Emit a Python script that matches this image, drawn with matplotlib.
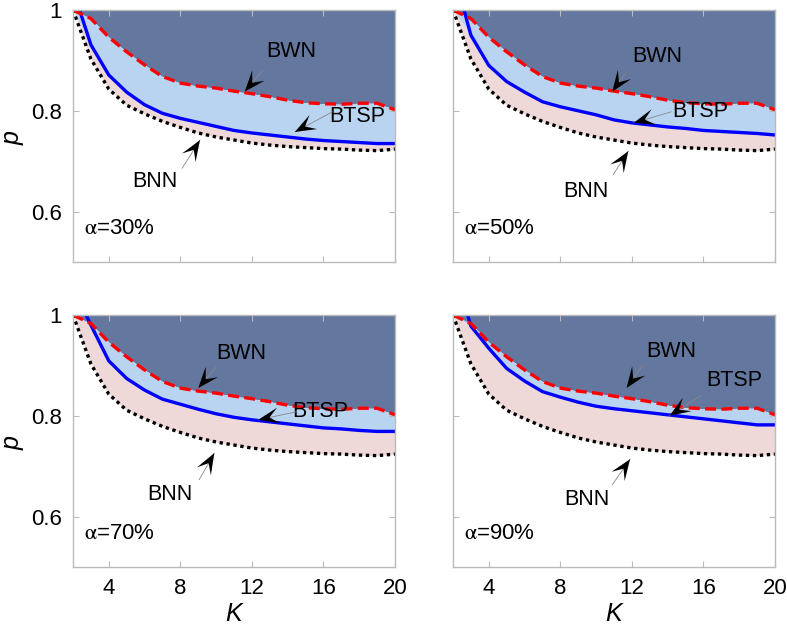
import numpy as np
import matplotlib
matplotlib.use("Agg")
import matplotlib.pyplot as plt
from matplotlib.patches import Polygon
from matplotlib.transforms import ScaledTranslation

plt.rcParams['font.family'] = ['Liberation Sans', 'DejaVu Sans']
plt.rcParams['mathtext.fontset'] = 'stix'

# data
K = list(range(2, 21))
bwn = [1.0, 0.983, 0.946, 0.917, 0.891, 0.868, 0.855, 0.849, 0.845, 0.839,
       0.834, 0.828, 0.821, 0.816, 0.814, 0.813, 0.815, 0.815, 0.802]
bnn = [1.0, 0.903, 0.843, 0.811, 0.794, 0.779, 0.767, 0.756, 0.748, 0.742,
       0.736, 0.732, 0.729, 0.727, 0.725, 0.724, 0.722, 0.721, 0.724]
btsp30 = [1.04, 0.931, 0.871, 0.837, 0.812, 0.795, 0.785, 0.777, 0.769, 0.761,
          0.756, 0.752, 0.748, 0.744, 0.741, 0.739, 0.737, 0.735, 0.735]
btsp50 = [1.08, 0.950, 0.890, 0.858, 0.837, 0.818, 0.808, 0.800, 0.792, 0.782,
          0.776, 0.772, 0.768, 0.765, 0.761, 0.759, 0.757, 0.755, 0.752]
btsp70 = [1.055, 0.980, 0.909, 0.874, 0.851, 0.833, 0.823, 0.813, 0.804, 0.797,
          0.792, 0.788, 0.784, 0.780, 0.776, 0.774, 0.771, 0.769, 0.769]
btsp90 = [1.10, 0.978, 0.934, 0.894, 0.869, 0.848, 0.837, 0.827, 0.819, 0.814,
          0.810, 0.806, 0.802, 0.798, 0.794, 0.790, 0.786, 0.782, 0.782]
alphas = ['30%', '50%', '70%', '90%']
btsp_all = [btsp30, btsp50, btsp70, btsp90]

# label placement: (text xy, line start, arrow tip) for BWN, BTSP, BNN
labels = [
    {'BWN': ((14.2, 0.917), (12.6, 0.880), (11.6, 0.838)),
     'BTSP': ((17.9, 0.788), (16.5, 0.798), (14.4, 0.758)),
     'BNN': ((6.6, 0.659), (8.1, 0.686), (9.1, 0.742))},
    {'BWN': ((13.4, 0.907), (11.7, 0.878), (10.9, 0.838)),
     'BTSP': ((15.8, 0.798), (14.2, 0.798), (12.1, 0.776)),
     'BNN': ((9.4, 0.640), (10.95, 0.673), (11.8, 0.720))},
    {'BWN': ((11.4, 0.924), (10.0, 0.897), (9.0, 0.855)),
     'BTSP': ((15.8, 0.808), (14.5, 0.808), (12.35, 0.792)),
     'BNN': ((7.4, 0.643), (9.05, 0.673), (9.9, 0.726))},
    {'BWN': ((14.2, 0.927), (12.6, 0.900), (11.7, 0.855)),
     'BTSP': ((17.7, 0.871), (15.9, 0.841), (14.1, 0.800)),
     'BNN': ((9.5, 0.633), (10.9, 0.663), (11.9, 0.714))},
]

dark = '#63779f'
light_blue = '#b9d4f1'
pink = '#efd8d8'

fig = plt.figure(figsize=(7.87, 6.28), dpi=100)
W, H = 787, 628
boxes = [(73, 10), (453, 10), (73, 315), (453, 315)]


def stealth(ax, start, tip, L=21, w=16):
    # arrowhead shaped like the original (swept back, notched)
    p0 = ax.transData.transform(start)
    p1 = ax.transData.transform(tip)
    d = (p1 - p0) / np.hypot(*(p1 - p0))
    n = np.array([-d[1], d[0]])
    pts = np.array([[0, 0],
                    -L * d + w / 2 * n,
                    -0.55 * L * d,
                    -L * d - w / 2 * n]) / fig.dpi
    tr = fig.dpi_scale_trans + ScaledTranslation(tip[0], tip[1], ax.transData)
    ax.add_patch(Polygon(pts, closed=True, transform=tr, color='black',
                         lw=0, zorder=5, clip_on=False))


k = np.array(K)
for i, (x0, y0) in enumerate(boxes):
    ax = fig.add_axes([x0 / W, 1 - (y0 + 252) / H, 322 / W, 252 / H])
    ax.set_xlim(2, 20)
    ax.set_ylim(0.5, 1)
    ts = np.array(btsp_all[i])
    wn = np.array(bwn)
    nn = np.array(bnn)
    mid = np.minimum(ts, wn)
    ax.fill_between(k, wn, 1.2, color=dark, lw=0)
    ax.fill_between(k, mid, wn, color=light_blue, lw=0)
    ax.fill_between(k, nn, mid, color=pink, lw=0)
    ax.plot(k, nn, color='black', lw=2.4, ls=(0, (1, 1.1)))
    ax.plot(k, ts, color='#0000ff', lw=2.4)
    ax.plot(k, wn, color='#ff0000', lw=2.4, ls=(0, (3.3, 1.6)))

    for name, (txy, start, tip) in labels[i].items():
        ax.text(txy[0], txy[1], name, ha='center', va='center', fontsize=15.5)
        ax.annotate('', xy=tip, xytext=start,
                    arrowprops=dict(arrowstyle='-', color='#888888', lw=0.6,
                                    shrinkA=0, shrinkB=0))
        stealth(ax, start, tip)

    ax.text(2.6, 0.567, r'$\mathrm{\alpha}$=' + alphas[i], ha='left', va='center',
            fontsize=16)

    ax.set_xticks([4, 8, 12, 16, 20])
    ax.set_yticks([0.6, 0.8, 1.0])
    ax.set_yticklabels(['0.6', '0.8', '1'])
    ax.tick_params(direction='in', length=4, color='#bbbbbb', labelsize=16,
                   top=True, right=True, pad=8)
    for s in ax.spines.values():
        s.set_color('#bbbbbb')
        s.set_linewidth(1.0)
    if i % 2 == 1:
        ax.tick_params(labelleft=False)
    else:
        ax.set_ylabel('p', fontsize=18, style='italic')
        ax.yaxis.set_label_coords(-0.15, 0.49)
    if i < 2:
        ax.tick_params(labelbottom=False)
    else:
        ax.set_xlabel('K', fontsize=18, style='italic')
        ax.xaxis.set_label_coords(0.5, -0.14)

fig.savefig('out.png', dpi=100)
